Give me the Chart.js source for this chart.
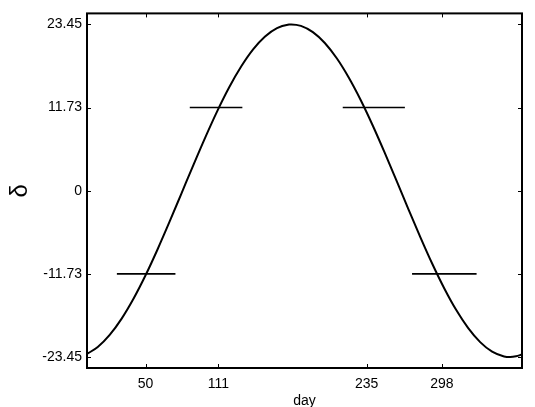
<!DOCTYPE html>
<html>
<head>
<meta charset="utf-8">
<script src="https://cdn.jsdelivr.net/npm/chart.js@4/dist/chart.umd.min.js"></script>
<style>
html,body{margin:0;padding:0;background:#fff;}
canvas{display:block;}
</style>
</head>
<body>
<canvas id="c" width="535" height="407"></canvas>
<script>
// Day of year and declination (degrees)
const days = [1, 10, 20, 30, 40, 50, 60, 70, 80, 90, 100, 110, 120, 130, 140, 150, 160, 170, 172, 180, 190, 200, 210, 220, 230, 240, 250, 260, 270, 280, 290, 300, 310, 320, 330, 340, 350, 355, 360, 365];
const decl = [-23.01, -22.04, -20.34, -18.04, -15.21, -11.93, -8.29, -4.41, -0.40, 3.62, 7.53, 11.23, 14.59, 17.51, 19.93, 21.75, 22.93, 23.43, 23.45, 23.24, 22.36, 20.83, 18.67, 15.96, 12.79, 9.23, 5.40, 1.41, -2.62, -6.57, -10.33, -13.78, -16.83, -19.38, -21.35, -22.70, -23.37, -23.45, -23.35, -23.09];

// Horizontal marker segments: start day, end day, level
const segStart = [26, 87, 215, 273];
const segEnd = [75, 131, 267, 327];
const segLevel = [-11.73, 11.73, 11.73, -11.73];

// Tick labels
const xTicks = [50, 111, 235, 298];
const yTicks = [-23.45, -11.73, 0, 11.73, 23.45];

const FONT = "'Liberation Sans', Arial, sans-serif";

const datasets = [{
  data: days.map((d, i) => ({x: d, y: decl[i]})),
  borderColor: '#000',
  borderWidth: 2,
  pointRadius: 0,
  fill: false,
  cubicInterpolationMode: 'monotone'
}];
segStart.forEach((s, i) => {
  datasets.push({
    data: [{x: s, y: segLevel[i]}, {x: segEnd[i], y: segLevel[i]}],
    borderColor: '#000',
    borderWidth: 1.7,
    pointRadius: 0,
    fill: false
  });
});

const framePlugin = {
  id: 'frame',
  afterDatasetsDraw(chart) {
    const {ctx, chartArea: {left, right, top, bottom}, scales: {x, y}} = chart;
    ctx.save();
    ctx.strokeStyle = '#000';
    ctx.lineWidth = 1;
    const L = 4;
    ctx.beginPath();
    x.ticks.forEach(t => {
      const px = Math.round(x.getPixelForValue(t.value)) + 0.5;
      ctx.moveTo(px, bottom); ctx.lineTo(px, bottom - L);
      ctx.moveTo(px, top); ctx.lineTo(px, top + L);
    });
    y.ticks.forEach(t => {
      const py = Math.round(y.getPixelForValue(t.value)) + 0.5;
      ctx.moveTo(left, py); ctx.lineTo(left + L, py);
      ctx.moveTo(right, py); ctx.lineTo(right - L, py);
    });
    ctx.stroke();
    ctx.lineWidth = 2;
    ctx.strokeRect(left, top, right - left, bottom - top);
    ctx.restore();
  }
};

new Chart(document.getElementById('c'), {
  type: 'line',
  data: {datasets},
  options: {
    responsive: false,
    animation: false,
    layout: {padding: {left: 0, right: 13, top: 12, bottom: 0}},
    plugins: {legend: {display: false}, tooltip: {enabled: false}},
    scales: {
      x: {
        type: 'linear', min: 1, max: 365,
        afterBuildTicks: s => { s.ticks = xTicks.map(v => ({value: v})); },
        afterFit: s => { s.height = 39; },
        grid: {display: false, drawTicks: false},
        border: {display: false},
        ticks: {color: '#000', font: {family: FONT, size: 14}, padding: 8, maxRotation: 0, autoSkip: false, callback: v => String(v)},
        title: {display: true, text: 'day', color: '#000', font: {family: FONT, size: 14, lineHeight: 0.8}, padding: 0}
      },
      y: {
        type: 'linear', min: -25, max: 25,
        afterBuildTicks: s => { s.ticks = yTicks.map(v => ({value: v})); },
        afterFit: s => { s.width = 87; },
        grid: {display: false, drawTicks: false},
        border: {display: false},
        ticks: {color: '#000', font: {family: FONT, size: 14}, padding: 5, autoSkip: false, callback: v => String(v)},
        title: {display: true, text: 'δ', color: '#000', font: {family: FONT, size: 24, lineHeight: 1}, padding: {top: 8, bottom: 0}}
      }
    }
  },
  plugins: [framePlugin]
});
</script>
</body>
</html>
